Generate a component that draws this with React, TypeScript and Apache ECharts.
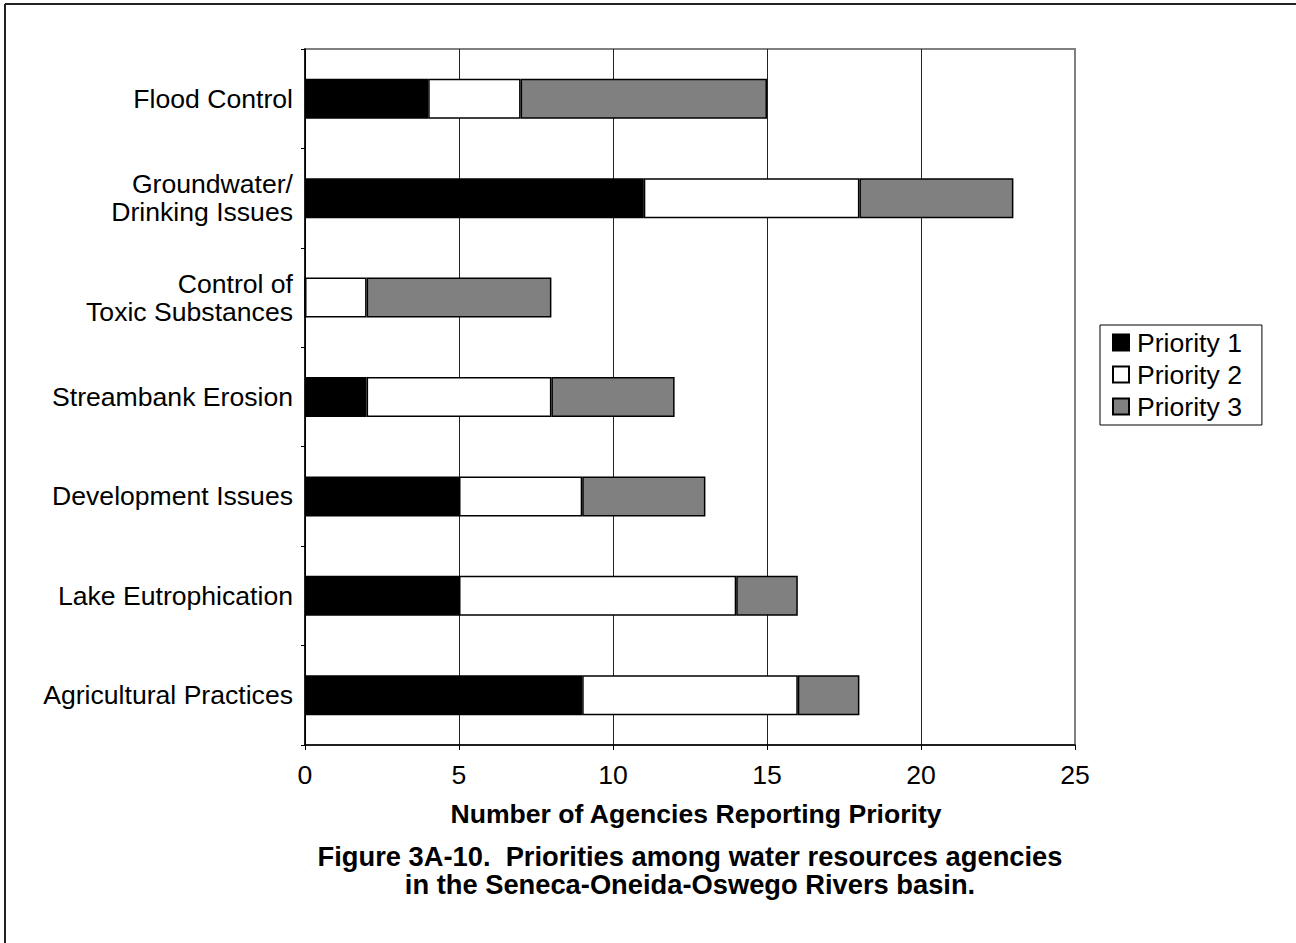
import React, { useEffect, useRef } from "react";
import * as echarts from "echarts";

const categories = [
  "Flood Control",
  "Groundwater/\nDrinking Issues",
  "Control of\nToxic Substances",
  "Streambank Erosion",
  "Development Issues",
  "Lake Eutrophication",
  "Agricultural Practices",
];
const priority1 = [4, 11, 0, 2, 5, 5, 9];
const priority2 = [3, 7, 2, 6, 4, 9, 7];
const priority3 = [8, 5, 6, 4, 4, 2, 2];
const seriesNames = ["Priority 1", "Priority 2", "Priority 3"];
const seriesColors = ["#000000", "#ffffff", "#808080"];
const xTicks = { min: 0, max: 25, interval: 5 };
const axisName = "Number of Agencies Reporting Priority";
const captionLines = [
  "Figure 3A-10.  Priorities among water resources agencies",
  "in the Seneca-Oneida-Oswego Rivers basin.",
];

const FONT = "'Liberation Sans', Arial, sans-serif";
const FS = 26.6;

export default function App() {
  const ref = useRef<HTMLDivElement>(null);
  useEffect(() => {
    if (!ref.current) return;
    const chart = echarts.init(ref.current, null, { renderer: "svg" });
    const values = [priority1, priority2, priority3];
    chart.setOption({
      animation: false,
      backgroundColor: "#ffffff",
      textStyle: { fontFamily: FONT },
      grid: {
        left: 305,
        right: 221,
        top: 49,
        bottom: 198,
        show: true,
        borderColor: "#808080",
        borderWidth: 2,
        backgroundColor: "transparent",
      },
      legend: {
        orient: "vertical",
        left: 1100,
        top: 325,
        data: seriesNames,
        icon: "rect",
        itemWidth: 16,
        itemHeight: 16,
        itemGap: 5,
        padding: [4, 20, 5, 12],
        borderColor: "#000",
        borderWidth: 1,
        textStyle: { fontFamily: FONT, fontSize: FS, color: "#000", padding: [0, 0, 0, 3] },
        selectedMode: false,
      },
      xAxis: {
        type: "value",
        min: xTicks.min,
        max: xTicks.max,
        interval: xTicks.interval,
        axisLine: { show: true, lineStyle: { color: "#000", width: 1.5 } },
        axisTick: { show: true, length: 5, lineStyle: { color: "#000", width: 1 } },
        axisLabel: { fontFamily: FONT, fontSize: FS, color: "#000", margin: 16 },
        splitLine: {
          show: true,
          lineStyle: { color: ["#000", "#222", "#222", "#222", "#222", "#808080"], width: 1 },
        },
      },
      yAxis: {
        type: "category",
        inverse: true,
        data: categories,
        axisLine: { show: true, lineStyle: { color: "#000", width: 1.5 } },
        axisTick: { show: true, length: 4, lineStyle: { color: "#000" } },
        axisLabel: {
          fontFamily: FONT,
          fontSize: FS,
          color: "#000",
          margin: 12,
          lineHeight: 28,
          align: "right",
        },
      },
      series: values.map((v, i) => ({
        name: seriesNames[i],
        type: "bar",
        stack: "total",
        data: v,
        barWidth: 40,
        itemStyle: { color: seriesColors[i], borderColor: "#000", borderWidth: 1.5 },
      })),
      graphic: [
        {
          type: "line",
          shape: { x1: 5, y1: 4, x2: 1296, y2: 4 },
          style: { stroke: "#222", lineWidth: 2 },
        },
        {
          type: "line",
          shape: { x1: 5, y1: 4, x2: 5, y2: 943 },
          style: { stroke: "#222", lineWidth: 2 },
        },
        {
          type: "text",
          x: 696,
          y: 814,
          style: {
            text: axisName,
            fontFamily: FONT,
            fontSize: FS,
            fontWeight: "bold",
            fill: "#000",
            align: "center",
            verticalAlign: "middle",
          },
        },
        ...captionLines.map((t, i) => ({
          type: "text",
          x: 690,
          y: 856 + i * 28,
          style: {
            text: t,
            fontFamily: FONT,
            fontSize: 27.3,
            fontWeight: "bold",
            fill: "#000",
            align: "center",
            verticalAlign: "middle",
          },
        })),
      ],
    });
    return () => chart.dispose();
  }, []);
  return (
    <div
      ref={ref}
      style={{ position: "fixed", left: 0, top: 0, width: 1296, height: 943 }}
    />
  );
}
